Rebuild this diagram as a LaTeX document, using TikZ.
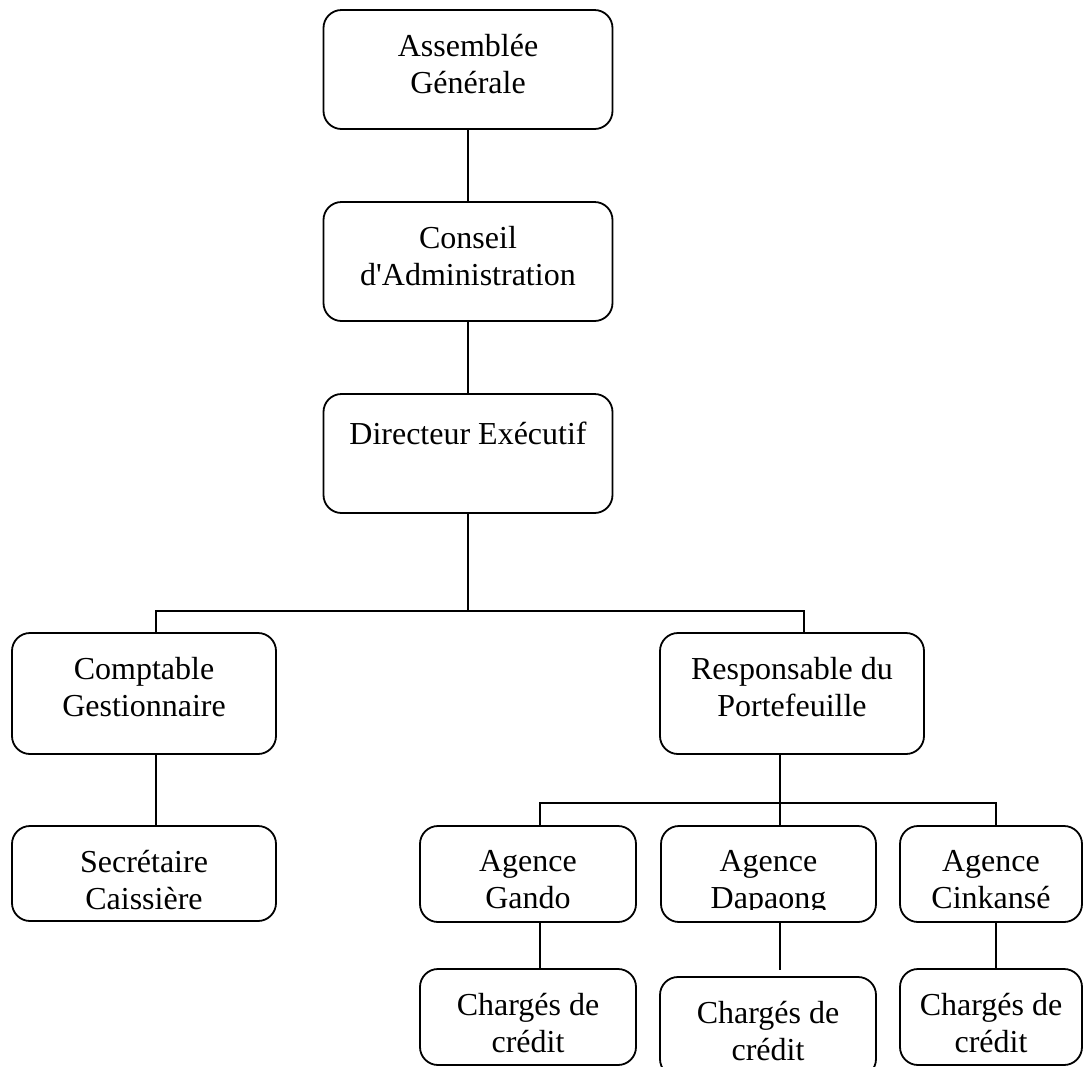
\documentclass[tikz,border=0pt]{standalone}
\usepackage{fontspec}
\setmainfont{Liberation Serif}
\usetikzlibrary{positioning, calc}

\tikzset{
    unit/.style={draw, line width=0.9pt, rounded corners=9pt, inner sep=0pt},
    unittext/.style={anchor=north, inner sep=0pt, align=center,
        font=\fontsize{16pt}{18.4pt}\selectfont, execute at begin node=\strut},
    link/.style={line width=0.9pt}
}

\begin{document}
\begin{tikzpicture}[x=0.5pt, y=-0.5pt]
    \useasboundingbox (0,0) rectangle (1084,1067);
    \clip (0,0) rectangle (1084,1067);

    \node[unit, minimum width=144.5pt, minimum height=59.5pt] (ag) at (468,69.5) {};
    \node[unit, minimum width=144.5pt, minimum height=59.5pt] (ca) at (468,261.5) {};
    \node[unit, minimum width=144.5pt, minimum height=59.5pt] (de) at (468,453.5) {};
    \node[unit, minimum width=132pt, minimum height=60.5pt] (compt) at (144,693.5) {};
    \node[unit, minimum width=132pt, minimum height=60.5pt] (resp) at (792,693.5) {};
    \node[unit, minimum width=132pt, minimum height=47.5pt] (sec) at (144,873.5) {};
    \node[unit, minimum width=108pt, minimum height=48pt] (gando) at (528,874) {};
    \node[unit, minimum width=107.5pt, minimum height=48pt] (dapaong) at (768.5,874) {};
    \node[unit, minimum width=91pt, minimum height=48pt] (cink) at (991,874) {};
    \node[unit, minimum width=108pt, minimum height=48pt] (chg) at (528,1017) {};
    \node[unit, minimum width=108pt, minimum height=50pt] (chd) at (768,1027) {};
    \node[unit, minimum width=91pt, minimum height=48pt] (chc) at (991,1017) {};

    \node[unittext] (agtext) at ($(ag.north)+(0,25)$) {Assemblée\\Générale};
    \node[unittext] (catext) at ($(ca.north)+(0,25)$) {Conseil\\d\textquotesingle Administration};
    \node[unittext] (detext) at ($(de.north)+(0,25)$) {Directeur Exécutif};
    \node[unittext] (compttext) at ($(compt.north)+(0,25)$) {Comptable\\Gestionnaire};
    \node[unittext] (resptext) at ($(resp.north)+(0,25)$) {Responsable du\\Portefeuille};
    \node[unittext] (sectext) at ($(sec.north)+(0,25)$) {Secrétaire\\Caissière};
    \begin{scope}
        \clip (0,826) rectangle (1084,909);
        \node[unittext] (gandotext) at ($(gando.north)+(0,25)$) {Agence\\Gando};
        \node[unittext] (dapaongtext) at ($(dapaong.north)+(0,25)$) {Agence\\Dapaong};
        \node[unittext] (cinktext) at ($(cink.north)+(0,25)$) {Agence\\Cinkansé};
    \end{scope}
    \node[unittext] (chgtext) at ($(chg.north)+(0,25)$) {Chargés de\\crédit};
    \node[unittext] (chdtext) at ($(chd.north)+(0,25)$) {Chargés de\\crédit};
    \node[unittext] (chctext) at ($(chc.north)+(0,25)$) {Chargés de\\crédit};

    \coordinate (bus) at ($(de.south)+(0,97)$);
    \coordinate (fork) at ($(resp.south)+(-12,48)$);
    \coordinate (dapend) at ($(dapaong.south)+(11.5,47)$);

    \draw[link] (ag) -- (ca);
    \draw[link] (ca) -- (de);
    \draw[link] (de) -- (bus);
    \draw[link] ($(compt.north)+(12,0)$) |- (bus) -| ($(resp.north)+(12,0)$);
    \draw[link] ($(compt.south)+(12,0)$) -- ($(sec.north)+(12,0)$);
    \draw[link] ($(resp.south)+(-12,0)$) -- ($(dapaong.north)+(11.5,0)$);
    \draw[link] ($(gando.north)+(12,0)$) |- (fork) -| ($(cink.north)+(5,0)$);
    \draw[link] ($(gando.south)+(12,0)$) -- ($(chg.north)+(12,0)$);
    \draw[link] ($(dapaong.south)+(11.5,0)$) -- (dapend);
    \draw[link] ($(cink.south)+(5,0)$) -- ($(chc.north)+(5,0)$);
\end{tikzpicture}
\end{document}
